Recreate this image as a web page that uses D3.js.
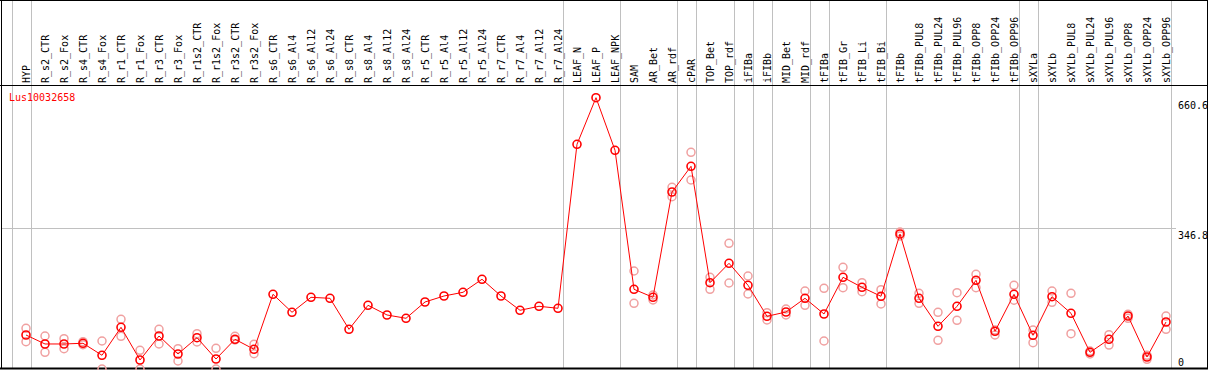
<!DOCTYPE html>
<html>
<head>
<meta charset="utf-8">
<script src="https://d3js.org/d3.v7.min.js"></script>
<style>
  body { margin: 0; background: #fff; }
  svg text { font-family: "DejaVu Sans Mono", monospace; font-size: 10px; }
</style>
</head>
<body>
<div id="chart"></div>
<script>
var geneName = "Lus10032658";

var samples = ["HYP", "R_s2_CTR", "R_s2_Fox", "R_s4_CTR", "R_s4_Fox", "R_r1_CTR", "R_r1_Fox",
    "R_r3_CTR", "R_r3_Fox", "R_r1s2_CTR", "R_r1s2_Fox", "R_r3s2_CTR", "R_r3s2_Fox",
    "R_s6_CTR", "R_s6_Al4", "R_s6_Al12", "R_s6_Al24", "R_s8_CTR", "R_s8_Al4", "R_s8_Al12", "R_s8_Al24",
    "R_r5_CTR", "R_r5_Al4", "R_r5_Al12", "R_r5_Al24", "R_r7_CTR", "R_r7_Al4", "R_r7_Al12", "R_r7_Al24",
    "LEAF_N", "LEAF_P", "LEAF_NPK", "SAM", "AR_Bet", "AR_rdf", "cPAR", "TOP_Bet", "TOP_rdf",
    "iFIBa", "iFIBb", "MID_Bet", "MID_rdf", "tFIBa", "tFIB_Gr", "tFIB_Li", "tFIB_Bi", "tFIBb",
    "tFIBb_PUL8", "tFIBb_PUL24", "tFIBb_PUL96", "tFIBb_OPP8", "tFIBb_OPP24", "tFIBb_OPP96",
    "sXYLa", "sXYLb", "sXYLb_PUL8", "sXYLb_PUL24", "sXYLb_PUL96", "sXYLb_OPP8", "sXYLb_OPP24", "sXYLb_OPP96"];

// mean expression
var means = [87.0, 65.3, 65.3, 67.0, 38.0, 105.6, 26.6, 84.6, 41.1, 80.5, 29.0, 76.6, 52.5,
    185.4, 141.9, 178.1, 175.7, 100.8, 158.8, 135.4, 127.4,
    166.8, 181.3, 190.2, 221.7, 181.3, 146.7, 156.4, 151.6,
    548.0, 660.6, 533.5, 197.5, 178.1, 432.7, 494.8, 213.4, 260.3,
    207.2, 132.2, 142.6, 175.7, 137.8, 226.5, 202.3, 180.6, 331.2,
    175.7, 108.0, 156.4, 219.2, 96.0, 185.4,
    86.3, 179.6, 139.5, 45.2, 76.6, 132.9, 33.8, 118.4];

// replicates (null = hidden behind the mean)
var rep1 = [103.2, 84.6, 78.1, 70.8, 72.5, 125.0, 50.0, 100.8, 53.9, 90.2, 54.9, 83.9, 64.5,
    null, null, null, null, null, null, null, null,
    null, null, null, null, null, null, null, null,
    null, null, null, 241.7, 183.7, 444.0, 528.6, 226.5, 308.7,
    229.6, 140.9, 149.9, 193.4, 199.9, 250.7, 213.4, 196.5, 336.0,
    187.8, 141.9, 189.3, 233.7, 99.1, 207.2,
    99.1, 193.4, 187.8, 48.3, 87.7, 137.1, 38.0, 132.9];
var rep2 = [70.8, 45.2, 53.9, 63.6, 4.8, 83.9, 4.8, 65.3, 24.2, 70.1, 4.8, 74.9, 41.8,
    null, null, null, null, null, null, null, null,
    null, null, null, null, null, null, null, null,
    null, null, null, 163.6, 171.6, 421.3, 461.7, 197.5, 212.7,
    186.1, 123.3, 135.4, 158.8, 72.5, 201.4, 191.7, 162.0, 326.3,
    163.6, 74.2, 122.6, 201.4, 87.0, 171.1,
    68.4, 166.1, 90.2, 41.1, 62.8, 127.4, 28.3, 100.8];

// group separators: after these sample indices
var separators = [-1, 0, 28, 31, 34, 35, 37, 38, 39, 41, 42, 45, 52, 53, 60];
var yLabels = [660.6, 346.8, 0];
var gridValues = [346.8];

var width = 1209, height = 370;
var headerBottom = 85, plotBottom = 368;

var svg = d3.select("#chart").append("svg")
    .attr("width", width)
    .attr("height", height);

var x = d3.scalePoint()
    .domain(samples)
    .range([26, 26 + 19 * (samples.length - 1)]);
var step = x.step();

var y = d3.scaleLinear()
    .domain([0, 660.6])
    .range([371, 97.7]);

// horizontal grid
svg.selectAll("line.grid")
    .data(gridValues)
    .enter().append("line")
    .attr("class", "grid")
    .attr("x1", 1).attr("x2", 1176)
    .attr("y1", function(d){ return Math.round(y(d)) + 0.5; })
    .attr("y2", function(d){ return Math.round(y(d)) + 0.5; })
    .style("stroke", "#c0c0c0");

// vertical separators
svg.selectAll("line.sep")
    .data(separators)
    .enter().append("line")
    .attr("class", "sep")
    .attr("x1", function(i){ return Math.round(x.range()[0] + step * i + 4.5) + 0.5; })
    .attr("x2", function(i){ return Math.round(x.range()[0] + step * i + 4.5) + 0.5; })
    .attr("y1", 0).attr("y2", plotBottom)
    .style("stroke", "#c0c0c0");

// frame
svg.append("line").attr("x1", 0).attr("x2", 1208).attr("y1", 0.5).attr("y2", 0.5).style("stroke", "#000");
svg.append("line").attr("x1", 0).attr("x2", 1208).attr("y1", headerBottom + 0.5).attr("y2", headerBottom + 0.5).style("stroke", "#000");
svg.append("line").attr("x1", 0).attr("x2", 1208).attr("y1", plotBottom + 0.5).attr("y2", plotBottom + 0.5).style("stroke", "#000").style("stroke-width", 2);
svg.append("line").attr("x1", 1.5).attr("x2", 1.5).attr("y1", 0).attr("y2", plotBottom).style("stroke", "#000");
svg.append("line").attr("x1", 1207.5).attr("x2", 1207.5).attr("y1", 0).attr("y2", plotBottom).style("stroke", "#000");

// sample labels
svg.selectAll("text.sample")
    .data(samples)
    .enter().append("text")
    .attr("class", "sample")
    .attr("transform", function(d){ return "translate(" + (x(d) + 4) + "," + (headerBottom - 2) + ") rotate(-90)"; })
    .style("fill", "#000")
    .text(function(d){ return d; });

// y labels on the right
svg.selectAll("text.ylab")
    .data(yLabels)
    .enter().append("text")
    .attr("class", "ylab")
    .attr("x", 1178)
    .attr("y", function(d){ return Math.min(y(d) + 11, 366); })
    .style("fill", "#000")
    .text(function(d){ return d; });

var plot = svg.append("g");

// replicates
var reps = [];
for(var i = 0; i < samples.length; i++){
    if(rep1[i] !== null) reps.push([samples[i], rep1[i]]);
    if(rep2[i] !== null) reps.push([samples[i], rep2[i]]);
}
plot.selectAll("circle.rep")
    .data(reps)
    .enter().append("circle")
    .attr("class", "rep")
    .attr("cx", function(d){ return x(d[0]); })
    .attr("cy", function(d){ return y(d[1]); })
    .attr("r", 4)
    .style("fill", "none")
    .style("stroke", "#f0a0a0")
    .style("stroke-width", 1.5);

// mean line
plot.append("path")
    .datum(samples)
    .attr("d", d3.line()
        .x(function(d){ return x(d); })
        .y(function(d, i){ return y(means[i]); }))
    .style("fill", "none")
    .style("stroke", "#ff0000")
    .style("stroke-width", 1);

plot.selectAll("circle.mean")
    .data(samples)
    .enter().append("circle")
    .attr("class", "mean")
    .attr("cx", function(d){ return x(d); })
    .attr("cy", function(d, i){ return y(means[i]); })
    .attr("r", 4)
    .style("fill", "none")
    .style("stroke", "#ff0000")
    .style("stroke-width", 1.6);

svg.append("text")
    .attr("x", 9)
    .attr("y", 101)
    .style("fill", "#ff0000")
    .text(geneName);
</script>
</body>
</html>
